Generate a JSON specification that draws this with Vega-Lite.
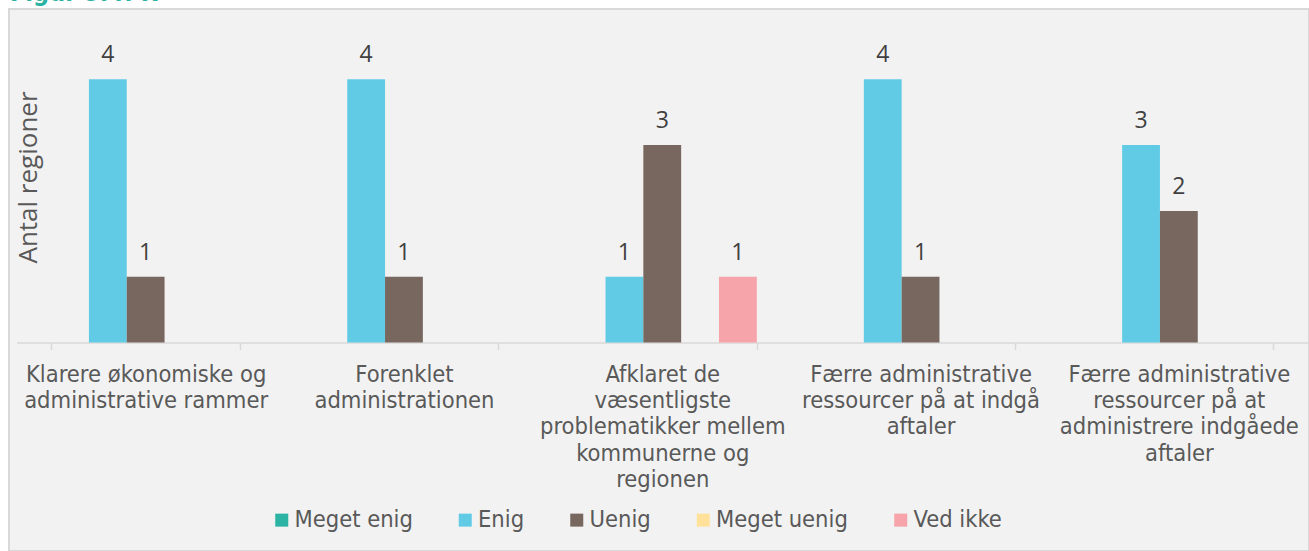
{
  "$schema": "https://vega.github.io/schema/vega-lite/v6.json",
  "width": 1300,
  "height": 542,
  "autosize": {"type": "none"},
  "padding": {"left": 9, "top": 9, "right": 0, "bottom": 0},
  "background": "white",
  "title": {
    "text": "Figur 5.4: R",
    "anchor": "start",
    "frame": "group",
    "color": "#2BB3A3",
    "font": "DejaVu Sans Condensed",
    "fontWeight": "bold",
    "fontSize": 25,
    "baseline": "bottom",
    "offset": -6,
    "dx": 1,
    "dy": 16
  },
  "config": {
    "view": {"fill": "#f2f2f2", "stroke": "#d9d9d9", "strokeWidth": 2},
    "font": "Open Sans"
  },
  "data": {
    "values": [
      {"kategori": "Klarere økonomiske og administrative rammer", "svar": "Enig", "antal": 4},
      {"kategori": "Klarere økonomiske og administrative rammer", "svar": "Uenig", "antal": 1},
      {"kategori": "Forenklet administrationen", "svar": "Enig", "antal": 4},
      {"kategori": "Forenklet administrationen", "svar": "Uenig", "antal": 1},
      {"kategori": "Afklaret de væsentligste problematikker mellem kommunerne og regionen", "svar": "Enig", "antal": 1},
      {"kategori": "Afklaret de væsentligste problematikker mellem kommunerne og regionen", "svar": "Uenig", "antal": 3},
      {"kategori": "Afklaret de væsentligste problematikker mellem kommunerne og regionen", "svar": "Ved ikke", "antal": 1},
      {"kategori": "Færre administrative ressourcer på at indgå aftaler", "svar": "Enig", "antal": 4},
      {"kategori": "Færre administrative ressourcer på at indgå aftaler", "svar": "Uenig", "antal": 1},
      {"kategori": "Færre administrative ressourcer på at administrere indgåede aftaler", "svar": "Enig", "antal": 3},
      {"kategori": "Færre administrative ressourcer på at administrere indgåede aftaler", "svar": "Uenig", "antal": 2}
    ]
  },
  "encoding": {
    "x": {
      "field": "kategori",
      "type": "nominal",
      "sort": null,
      "scale": {
        "domain": [
          "Klarere økonomiske og administrative rammer",
          "Forenklet administrationen",
          "Afklaret de væsentligste problematikker mellem kommunerne og regionen",
          "Færre administrative ressourcer på at indgå aftaler",
          "Færre administrative ressourcer på at administrere indgåede aftaler"
        ],
        "range": [7.5, 1299],
        "paddingInner": 0.268,
        "paddingOuter": 0.134
      },
      "axis": {
        "title": null,
        "orient": "bottom",
        "offset": -208.5,
        "labelAngle": 0,
        "domainColor": "#d9d9d9",
        "domainWidth": 1.5,
        "tickColor": "#d9d9d9",
        "tickWidth": 1.5,
        "tickSize": 7,
        "tickBand": "extent",
        "labelFont": "DejaVu Sans Condensed",
        "labelFontSize": 23.5,
        "labelColor": "#595959",
        "labelLineHeight": 26.2,
        "labelBaseline": "top",
        "labelPadding": 13,
        "labelLimit": 0,
        "labelExpr": "datum.value == 'Klarere økonomiske og administrative rammer' ? ['Klarere økonomiske og', 'administrative rammer'] : datum.value == 'Forenklet administrationen' ? ['Forenklet', 'administrationen'] : datum.value == 'Afklaret de væsentligste problematikker mellem kommunerne og regionen' ? ['Afklaret de', 'væsentligste', 'problematikker mellem', 'kommunerne og', 'regionen'] : datum.value == 'Færre administrative ressourcer på at indgå aftaler' ? ['Færre administrative', 'ressourcer på at indgå', 'aftaler'] : datum.value == 'Færre administrative ressourcer på at administrere indgåede aftaler' ? ['Færre administrative', 'ressourcer på at', 'administrere indgåede', 'aftaler'] : ''"
      }
    },
    "xOffset": {
      "field": "svar",
      "type": "nominal",
      "scale": {
        "domain": ["Meget enig", "Enig", "Uenig", "Meget uenig", "Ved ikke"],
        "paddingInner": 0,
        "paddingOuter": 0
      }
    },
    "y": {
      "field": "antal",
      "type": "quantitative",
      "scale": {"domain": [-3.1687, 5.0684], "nice": false, "zero": false},
      "axis": {
        "title": "Antal regioner",
        "domain": false,
        "labels": false,
        "ticks": false,
        "grid": false,
        "titleFont": "Open Sans",
        "titleFontSize": 26,
        "titleFontWeight": "normal",
        "titleColor": "#595959",
        "titleBaseline": "alphabetic",
        "titleX": 27,
        "titleY": 168
      }
    }
  },
  "layer": [
    {
      "mark": {"type": "bar"},
      "encoding": {
        "y2": {"datum": 0},
        "color": {
          "field": "svar",
          "type": "nominal",
          "scale": {
            "domain": ["Meget enig", "Enig", "Uenig", "Meget uenig", "Ved ikke"],
            "range": ["#2BB3A3", "#61CBE5", "#78675E", "#FFE19A", "#F7A3AA"]
          },
          "legend": {
            "title": null,
            "orient": "none",
            "legendX": 261,
            "legendY": 499,
            "direction": "horizontal",
            "columns": 5,
            "symbolType": "square",
            "symbolSize": 169,
            "symbolStrokeWidth": 0,
            "labelFont": "DejaVu Sans Condensed",
            "labelFontSize": 23.5,
            "labelColor": "#595959",
            "labelOffset": 1,
            "columnPadding": 40.5,
            "labelLimit": 0
          }
        }
      }
    },
    {
      "mark": {"type": "text", "baseline": "alphabetic", "dy": -17, "fontSize": 23, "font": "Open Sans", "color": "#404040"},
      "encoding": {
        "text": {"field": "antal", "type": "quantitative"}
      }
    }
  ]
}
